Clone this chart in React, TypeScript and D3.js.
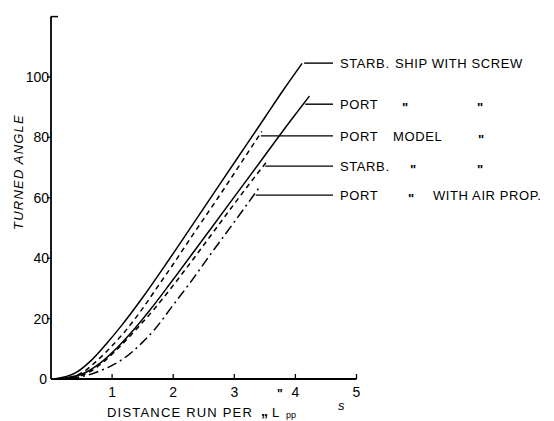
import React from "react";
import * as d3 from "d3";

const W = 554;
const H = 421;

// Series: [distance run per L_pp, turned angle]
const starbShipScrew: [number, number][] = [
  [0.05, 0], [0.4, 2], [0.65, 6], [0.9, 11.5], [1.15, 17.6], [1.5, 27],
  [1.93, 39.5], [2.5, 56.6], [3.0, 71.6], [3.5, 86.6], [3.8, 95.6], [4.11, 104.5],
];
const portShipScrew: [number, number][] = [
  [0.12, 0], [0.55, 2], [0.82, 5.5], [1.09, 10.5], [1.35, 16.2], [1.61, 22.6],
  [1.95, 31.6], [2.47, 45.8], [3.0, 60.3], [3.5, 74], [3.92, 85.5], [4.23, 93.7],
];
const portModelScrew: [number, number][] = [
  [0.15, 0], [0.5, 2], [0.75, 6], [1.0, 11], [1.2, 15.5], [1.48, 22.8],
  [1.76, 31], [2.0, 38], [2.28, 46.5], [2.8, 62], [3.1, 71.2], [3.45, 82],
];
const starbModelScrew: [number, number][] = [
  [0.2, 0], [0.6, 2], [0.88, 6], [1.15, 11.2], [1.42, 17], [1.69, 23.2],
  [2.0, 31], [2.22, 36.8], [2.6, 47.1], [3.0, 58], [3.3, 66], [3.54, 72.2],
];
const portModelAirProp: [number, number][] = [
  [0.3, 0], [0.71, 2], [1.0, 4.5], [1.17, 6.5], [1.48, 11.8], [1.7, 16.5],
  [2.0, 24.5], [2.3, 32.5], [2.6, 41], [3.0, 52], [3.43, 64],
];

const xTicks = [1, 2, 3, 4, 5];
const yTicks = [0, 20, 40, 60, 80, 100];

// label rows: angle at which the leader meets the curve
const labelAngles = [104.6, 91, 80.5, 70.5, 60.9];
const dashStyles = ["", "", "5,4", "5,4", "10,4,2,4"];

const series = [starbShipScrew, portShipScrew, portModelScrew, starbModelScrew, portModelAirProp];

// text pieces per label row: [text, x offset, ditto?]
const labelTexts: [string, number, boolean][][] = [
  [["STARB.", 0, false], ["SHIP WITH SCREW", 55, false]],
  [["PORT", 0, false], ['"', 62, true], ['"', 137, true]],
  [["PORT", 0, false], ["MODEL", 53, false], ['"', 138, true]],
  [["STARB.", 0, false], ['"', 70, true], ['"', 137, true]],
  [["PORT", 0, false], ['"', 68, true], ["WITH AIR PROP.", 93, false]],
];

function pointAtAngle(data: [number, number][], a: number): [number, number] {
  for (let i = 1; i < data.length; i++) {
    const [x0, y0] = data[i - 1];
    const [x1, y1] = data[i];
    if (a >= y0 && a <= y1) {
      const t = (a - y0) / (y1 - y0);
      return [x0 + t * (x1 - x0), a];
    }
  }
  return data[data.length - 1];
}

export default function App() {
  const x = d3.scaleLinear().domain([0, 5]).range([51, 356.5]);
  const y = d3.scaleLinear().domain([0, 120]).range([379, 16.6]);
  const line = d3
    .line<[number, number]>()
    .x((d) => x(d[0]))
    .y((d) => y(d[1]))
    .curve(d3.curveMonotoneX);

  const font = "Liberation Sans, Arial, sans-serif";
  const labelX = 340;
  const leaderEnd = 333;

  return (
    <svg
      width={W}
      height={H}
      style={{ position: "absolute", left: 0, top: 0, background: "#fff" }}
      fontFamily={font}
    >
      <rect width={W} height={H} fill="#fff" />
      {/* axes */}
      <line x1={x(0)} y1={y(0)} x2={x(0)} y2={y(120)} stroke="#000" strokeWidth={1.8} />
      <line x1={x(0)} y1={y(120)} x2={x(0) + 7} y2={y(120)} stroke="#000" strokeWidth={1.5} />
      <line x1={x(0)} y1={y(0)} x2={x(5)} y2={y(0)} stroke="#000" strokeWidth={1.8} />
      {xTicks.map((t) => (
        <g key={"xt" + t}>
          <line x1={x(t)} y1={y(0)} x2={x(t)} y2={y(0) - 5} stroke="#000" strokeWidth={1.3} />
          <text x={x(t)} y={y(0) + 18} textAnchor="middle" fontSize={14}>
            {t}
          </text>
        </g>
      ))}
      {yTicks.map((t) => (
        <g key={"yt" + t}>
          {t > 0 && (
            <line x1={x(0) - 4} y1={y(t)} x2={x(0)} y2={y(t)} stroke="#000" strokeWidth={1.3} />
          )}
          <text x={x(0) - (t === 0 ? 4 : 2)} y={y(t) + 5} textAnchor="end" fontSize={14}>
            {t}
          </text>
        </g>
      ))}
      {/* axis titles */}
      <text
        transform={`translate(23,172) rotate(-90)`}
        textAnchor="middle"
        fontSize={13}
        fontStyle="italic"
        letterSpacing={1.2}
      >
        TURNED ANGLE
      </text>
      <text x={107} y={417} fontSize={13} letterSpacing={1.2}>
        DISTANCE RUN PER
      </text>
      <text x={261} y={416} fontSize={14} fontWeight="bold">„</text>
      <text x={272} y={417} fontSize={13}>L</text>
      <text x={277} y={398} fontSize={12} fontWeight="bold">"</text>
      <text x={286} y={418} fontSize={9}>pp</text>
      <text x={338} y={410} fontSize={13} fontStyle="italic">s</text>

      {/* curves */}
      {series.map((s, i) => (
        <path
          key={"s" + i}
          d={line(s) || ""}
          fill="none"
          stroke="#000"
          strokeWidth={1.5}
          strokeDasharray={dashStyles[i] || undefined}
        />
      ))}

      {/* leaders + labels */}
      {series.map((s, i) => {
        const p = pointAtAngle(s, labelAngles[i]);
        const ly = y(labelAngles[i]);
        return (
          <g key={"lab" + i}>
            <line x1={x(p[0]) + 2} y1={ly} x2={leaderEnd} y2={ly} stroke="#000" strokeWidth={1.4} />
            {labelTexts[i].map(([txt, dx, ditto], j) => (
              <text
                key={j}
                x={labelX + dx}
                y={ly + (ditto ? 8 : 5)}
                fontSize={ditto ? 13 : 13}
                fontWeight={ditto ? "bold" : "normal"}
                letterSpacing={ditto ? 0 : 0.6}
              >
                {txt}
              </text>
            ))}
          </g>
        );
      })}
    </svg>
  );
}
